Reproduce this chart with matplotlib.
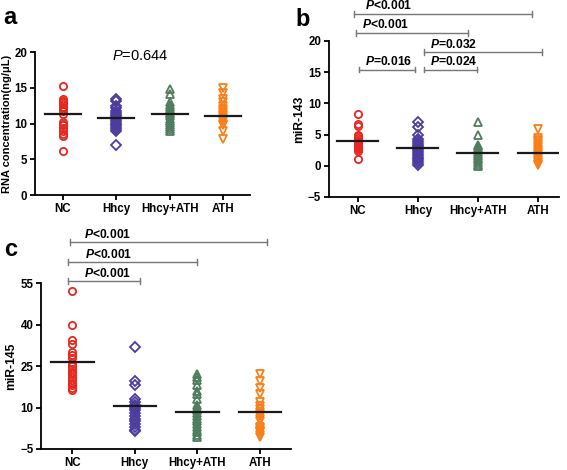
import numpy as np
import matplotlib
matplotlib.use('Agg')
import matplotlib.pyplot as plt

plt.rcParams['font.family'] = ['Liberation Sans', 'DejaVu Sans']
plt.rcParams['mathtext.fontset'] = 'custom'
plt.rcParams['mathtext.it'] = 'Liberation Sans:italic:bold'
plt.rcParams['mathtext.sf'] = 'Liberation Sans:italic'
plt.rcParams['mathtext.rm'] = 'Liberation Sans'

# groups
groups = ['NC', 'Hhcy', 'Hhcy+ATH', 'ATH']
colors = ['#e8271e', '#4b3c9e', '#4f7d5e', '#f7801a']
markers = ['o', 'D', '^', 'v']

# panel a: RNA concentration (ng/uL)
rna_nc = [15.2, 13.4, 13.2, 13.0, 12.7, 12.3, 12.0, 11.7, 11.3, 10.2, 10.0, 9.8, 9.4, 9.0, 8.6, 8.2, 6.1]
rna_hhcy = [13.5, 13.2, 12.5, 12.2, 11.8, 11.5, 11.2, 11.0, 10.8, 10.5, 10.2, 10.0, 9.8, 9.5, 9.2, 8.9, 7.0]
rna_hhcy_ath = [14.8, 14.2, 13.0, 12.6, 12.3, 12.0, 11.8, 11.5, 11.3, 11.0, 10.7, 10.4, 10.1, 9.8, 9.5, 9.2, 8.9]
rna_ath = [15.0, 14.3, 13.5, 13.0, 12.5, 12.1, 11.8, 11.5, 11.2, 10.9, 10.6, 10.3, 10.0, 9.8, 8.9, 7.8]
rna_means = [11.3, 10.8, 11.3, 11.1]

# panel b: miR-143
m143_nc = [8.3, 6.7, 6.4, 5.0, 4.8, 4.5, 4.2, 4.0, 3.8, 3.6, 3.4, 3.2, 3.0, 2.8, 2.6, 2.4, 1.0]
m143_hhcy = [7.0, 6.2, 5.0, 4.3, 4.0, 3.7, 3.4, 3.1, 2.8, 2.5, 2.2, 1.9, 1.6, 1.3, 1.0, 0.7, 0.4, 0.1]
m143_hhcy_ath = [7.0, 4.9, 3.4, 3.1, 2.8, 2.5, 2.2, 1.9, 1.6, 1.3, 1.0, 0.7, 0.4, 0.1, 0.0]
m143_ath = [5.9, 4.5, 4.2, 3.9, 3.6, 3.3, 3.0, 2.7, 2.4, 2.1, 1.8, 1.5, 1.2, 0.9, 0.6, 0.3, 0.1]
m143_means = [4.0, 2.9, 2.0, 2.0]

# panel c: miR-145
m145_nc = [52, 40, 34.5, 33, 30, 29, 28, 26, 25, 24, 23, 22, 21, 20, 19, 18, 17, 16.5]
m145_hhcy = [32, 19.5, 18, 13, 12, 11, 10.5, 10, 9, 8, 7, 6, 5, 4, 3, 2, 1.5]
m145_hhcy_ath = [22, 21, 20, 18, 16, 15, 13, 11, 10, 9, 8, 7, 6, 5, 4, 3, 2, 1, 0, -0.5]
m145_ath = [22, 19.5, 17, 15, 12, 10.5, 9.5, 8.5, 7.5, 7, 6, 5, 3, 2.5, 2, 1.5, 1, 0, -0.5]
m145_means = [26.3, 10.4, 8.3, 8.3]

# comparison brackets: (x start, x end, y, label)
b_brackets = [(-0.07, 2.9, 24.3, '<0.001'), (-0.03, 1.84, 21.3, '<0.001'),
              (1.11, 3.07, 18.2, '=0.032'), (0.02, 0.95, 15.4, '=0.016'),
              (1.11, 1.99, 15.4, '=0.024')]
b_label_x = [0.52, 0.47, 1.6, 0.51, 1.6]
c_brackets = [(-0.03, 3.11, 69.8, '<0.001'), (-0.06, 1.99, 62.6, '<0.001'),
              (-0.06, 1.09, 55.7, '<0.001')]
c_label_x = [0.57, 0.58, 0.56]


def dot_panel(ax, data, means, ylim, yticks, ylabel, xlim, ylabel_size=8.7):
    for i, vals in enumerate(data):
        ax.plot([i] * len(vals), vals, linestyle='none', marker=markers[i],
                markersize=5.2 if markers[i] != 'D' else 4.7, mfc='none',
                mec=colors[i], mew=1.3, clip_on=False, zorder=2)
        ax.plot([i - 0.34, i + 0.34], [means[i], means[i]], color='#1a1a1a', lw=1.6, zorder=3)
    ax.set_xlim(xlim)
    ax.set_ylim(ylim)
    ax.set_yticks(yticks)
    ax.set_xticks(range(len(groups)))
    ax.set_xticklabels(groups, fontweight='bold', fontsize=8.3)
    for t in ax.get_yticklabels():
        t.set_fontweight('bold')
        t.set_fontsize(8.3)
    ax.set_ylabel(ylabel, fontweight='bold', fontsize=ylabel_size, labelpad=2)
    ax.spines['top'].set_visible(False)
    ax.spines['right'].set_visible(False)
    ax.spines['left'].set_linewidth(1.3)
    ax.spines['bottom'].set_linewidth(1.3)
    ax.tick_params(direction='out', length=3.5, width=1.3, pad=2)


def brackets(ax, items, label_x, cap, dy):
    for (x0, x1, y, lab), lx in zip(items, label_x):
        ax.plot([x0, x1], [y, y], color='#777777', lw=1, clip_on=False)
        for xx in (x0, x1):
            ax.plot([xx, xx], [y - cap, y + cap], color='#777777', lw=1, clip_on=False)
        ax.text(lx, y + dy, r'$\mathit{P}$' + lab, ha='center', va='bottom',
                fontsize=8.7, fontweight='bold', clip_on=False)


fig = plt.figure(figsize=(5.67, 4.7), dpi=100)

ax_a = fig.add_axes([0.0617, 0.585, 0.379, 0.304])
dot_panel(ax_a, [rna_nc, rna_hhcy, rna_hhcy_ath, rna_ath], rna_means,
          (0, 20), [0, 5, 10, 15, 20], 'RNA concentration(ng/\u03bcL)', (-0.52, 3.5),
          ylabel_size=8.0)
ax_a.text(1.45, 19.4, r'$\mathsf{P}$=0.644', ha='center', va='center', fontsize=10.5)

ax_b = fig.add_axes([0.580, 0.581, 0.406, 0.332])
dot_panel(ax_b, [m143_nc, m143_hhcy, m143_hhcy_ath, m143_ath], m143_means,
          (-5, 20), [-5, 0, 5, 10, 15, 20], 'miR-143', (-0.48, 3.35))
brackets(ax_b, b_brackets, b_label_x, 0.45, 0.25)

ax_c = fig.add_axes([0.0723, 0.0447, 0.441, 0.353])
dot_panel(ax_c, [m145_nc, m145_hhcy, m145_hhcy_ath, m145_ath], m145_means,
          (-5, 55), [-5, 10, 25, 40, 55], 'miR-145', (-0.5, 3.5))
brackets(ax_c, c_brackets, c_label_x, 1.0, 0.5)

fig.text(0.018, 0.963, 'a', fontsize=17, fontweight='bold', ha='center', va='center')
fig.text(0.533, 0.958, 'b', fontsize=17, fontweight='bold', ha='center', va='center')
fig.text(0.018, 0.47, 'c', fontsize=17, fontweight='bold', ha='center', va='center')

fig.savefig('out.png', dpi=100)
